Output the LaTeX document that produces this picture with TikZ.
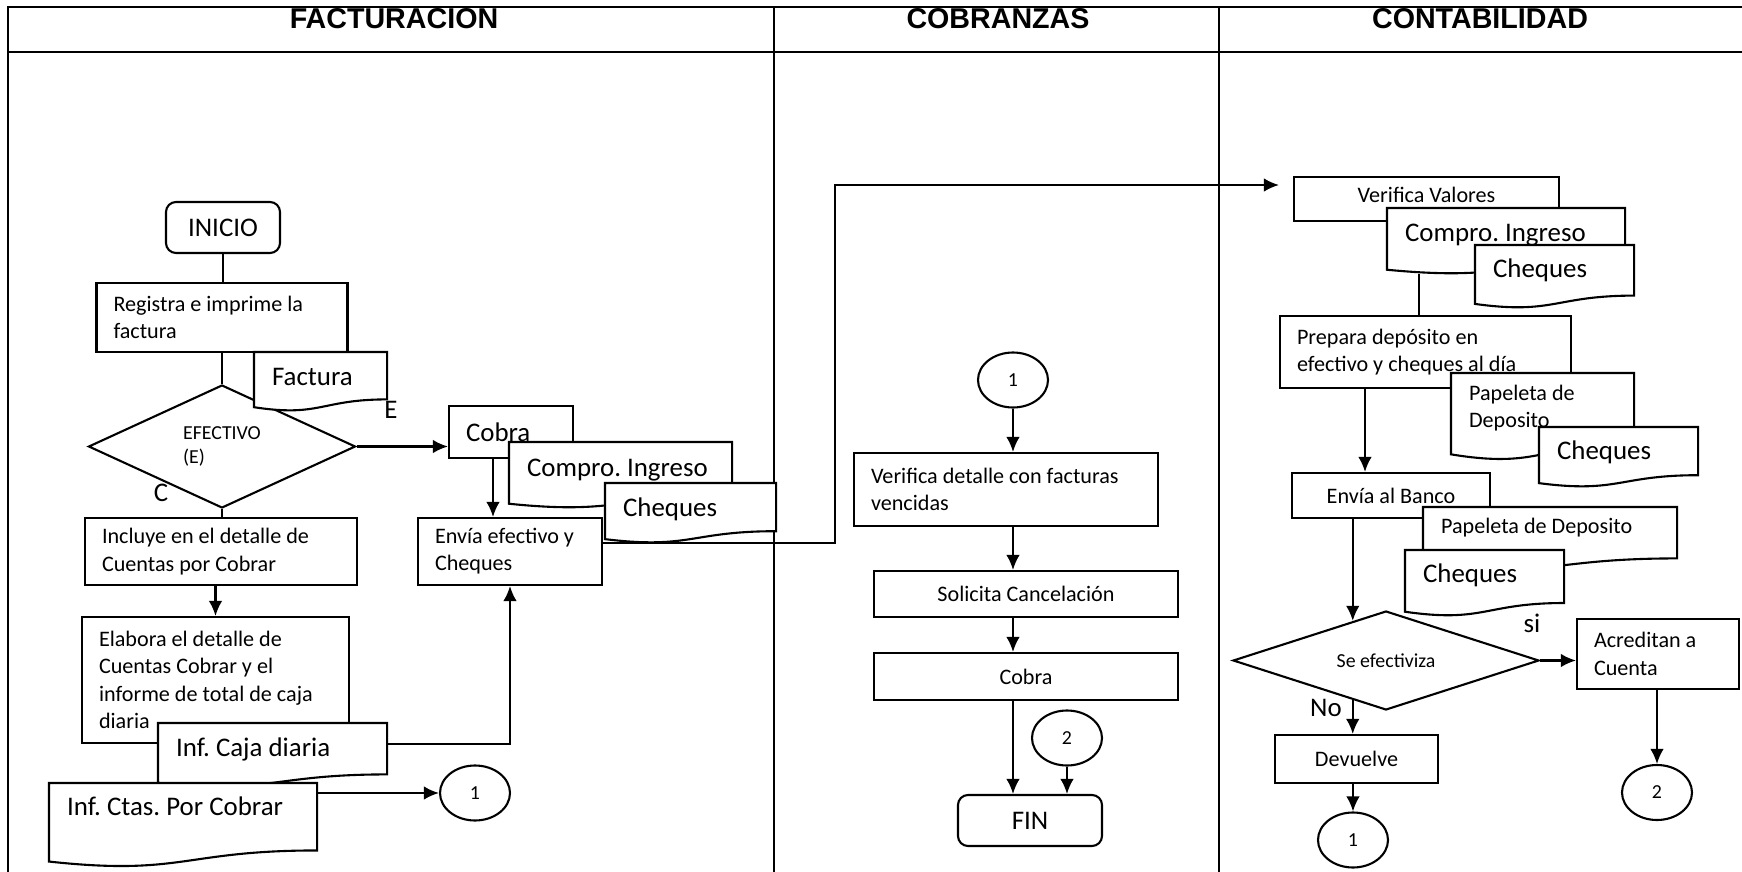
\documentclass[tikz,border=0pt]{standalone}
\usepackage{fontspec}
\setmainfont{Carlito}
\newfontfamily\headfont{Liberation Sans}
\usetikzlibrary{shapes.geometric,arrows.meta}

\newcommand\txtsmall{\fontsize{12.6}{15.5}\selectfont\frenchspacing}
\newcommand\txtbig{\fontsize{15.3}{18}\selectfont\frenchspacing}
\newcommand\txttiny{\fontsize{11.3}{13.5}\selectfont\frenchspacing}

\newdimen\docxa \newdimen\docya
\newdimen\docxb \newdimen\docyb
\newdimen\docw  \newdimen\doch
\newdimen\docmidx \newdimen\docyr \newdimen\docyc \newdimen\docyl
\makeatletter
\pgfdeclareshape{document}{
  \inheritsavedanchors[from=rectangle]
  \inheritanchorborder[from=rectangle]
  \inheritanchor[from=rectangle]{center}
  \inheritanchor[from=rectangle]{base}
  \inheritanchor[from=rectangle]{north}
  \inheritanchor[from=rectangle]{south}
  \inheritanchor[from=rectangle]{east}
  \inheritanchor[from=rectangle]{west}
  \inheritanchor[from=rectangle]{north east}
  \inheritanchor[from=rectangle]{north west}
  \inheritanchor[from=rectangle]{south east}
  \inheritanchor[from=rectangle]{south west}
  \backgroundpath{
    \southwest \docxa=\pgf@x \docya=\pgf@y
    \northeast \docxb=\pgf@x \docyb=\pgf@y
    \docw=\docxb \advance\docw by -\docxa
    \doch=\docyb \advance\doch by -\docya
    \docmidx=\docxa \advance\docmidx by .5\docw
    \docyr=\docya \advance\docyr by .198\doch
    \docyc=\docya \advance\docyc by -.107\doch
    \docyl=\docya \advance\docyl by .066\doch
    \pgfpathmoveto{\pgfqpoint{\docxa}{\docyb}}
    \pgfpathlineto{\pgfqpoint{\docxb}{\docyb}}
    \pgfpathlineto{\pgfqpoint{\docxb}{\docyr}}
    \pgfpathcurveto{\pgfqpoint{\docmidx}{\docyr}}{\pgfqpoint{\docmidx}{\docyc}}{\pgfqpoint{\docxa}{\docyl}}
    \pgfpathclose
  }
}
\makeatother

\tikzset{
  every node/.style={execute at begin node={\spaceskip=0pt\xspaceskip=0pt\relax}},
  lane/.style={font=\headfont\bfseries\fontsize{16.3}{19}\selectfont, inner sep=0pt},
  proc/.style={draw, fill=white, inner xsep=3.4mm, inner ysep=0pt, align=flush left, font=\txtsmall},
  mid/.style={align=flush center},
  term/.style={draw, fill=white, rounded corners=2mm, inner sep=0pt, font=\txtbig},
  doc/.style={shape=document, draw, fill=white, anchor=north west, inner xsep=3.4mm, inner ysep=0pt, align=flush left, font=\txtbig},
  decision/.style={diamond, draw, fill=white, inner sep=0pt, align=flush left, font=\txttiny},
  conn/.style={ellipse, draw, fill=white, inner sep=0pt, minimum width=14mm, minimum height=11mm, font=\txttiny},
  tag/.style={inner sep=0pt, font=\txtbig}
}

\begin{document}
\begin{tikzpicture}[x=1mm,y=-1mm,line width=0.42mm,>={Latex[length=3mm,width=2.7mm]}]
      \useasboundingbox (0,0) rectangle (348.4,174.4);
      \draw (1.6,174.4) |- (348.4,1.4);
      \draw (1.6,10.4) -- (348.4,10.4);
      \draw (154.8,1.4) -- (154.8,174.4);
      \draw (243.8,1.4) -- (243.8,174.4);
      \node[lane] (fact) at (78.8,3.7) {FACTURACION};
      \node[lane] (cobr) at (199.6,3.7) {COBRANZAS};
      \node[lane] (cont) at (296,3.7) {CONTABILIDAD};

      \node[term, minimum width=22.8mm, minimum height=10.2mm] (inicio) at (44.6,45.5) {INICIO};
      \node[proc, text width=43.4mm, minimum height=13.8mm] (registra) at (44.4,63.5) {Registra e imprime la\\factura};
      \node[decision, minimum width=53.4mm, minimum height=24.6mm, aspect=2.2] (efectivo) at (44.4,89.3) {EFECTIVO\\(E)};
      \node[doc, text width=19.4mm, text height=6.4mm, text depth=5mm] (factura) at (50.8,70.4) {Factura};
      \node[tag] (e) at (78.2,82) {E};
      \node[tag] (c) at (32.2,98.6) {C};
      \node[proc, text width=47.6mm, minimum height=13.4mm] (incluye) at (44.2,110.3) {Incluye en el detalle de\\Cuentas por Cobrar};
      \node[proc, text width=46.6mm, minimum height=25.2mm] (elabora) at (43.1,136) {Elabora el detalle de\\Cuentas Cobrar y el\\informe de total de caja\\diaria};
      \node[doc, text width=38.6mm, text height=6.5mm, text depth=5.9mm] (caja) at (31.6,144.6) {Inf. Caja diaria};
      \node[doc, text width=46.4mm, text height=6.2mm, text depth=10.2mm] (ctas) at (9.8,156.6) {Inf. Ctas. Por Cobrar};
      \node[conn] (uno) at (95,158.6) {1};
      \node[proc, font=\txtbig, text width=18mm, minimum height=10.4mm] (cobra) at (102.2,86.4) {Cobra};
      \node[doc, text width=37.4mm, text height=6.7mm, text depth=6.1mm] (ingreso) at (101.8,88.4) {Compro. Ingreso};
      \node[doc, text width=27mm, text height=6.5mm, text depth=5.1mm] (cheques) at (121,96.6) {Cheques};
      \node[proc, text width=30mm, minimum height=13.4mm] (envia) at (102,110.3) {Envía efectivo y\\Cheques};

      \node[conn] (uno2) at (202.6,76) {1};
      \node[proc, text width=54mm, minimum height=14.6mm] (detalle) at (201.2,97.9) {Verifica detalle con facturas\\vencidas};
      \node[proc, mid, text width=54mm, minimum height=9.2mm] (solicita) at (205.2,118.8) {Solicita Cancelación};
      \node[proc, mid, text width=54mm, minimum height=9.4mm] (cobra2) at (205.2,135.3) {Cobra};
      \node[conn] (dos) at (213.4,147.6) {2};
      \node[term, minimum width=28.8mm, minimum height=10.2mm] (fin) at (206,164.1) {FIN};

      \node[proc, mid, text width=46.2mm, minimum height=8.8mm, text depth=1.5mm] (valores) at (285.3,39.8) {Verifica Valores};
      \node[doc, text width=40.4mm, text height=6.5mm, text depth=6.3mm] (ingreso2) at (277.4,41.6) {Compro. Ingreso};
      \node[doc, text width=24.6mm, text height=6.2mm, text depth=6mm] (cheques2) at (295,49) {Cheques};
      \node[proc, text width=51.4mm, minimum height=14.4mm] (prepara) at (285.1,70.4) {Prepara depósito en\\efectivo y cheques al día};
      \node[doc, font=\txtsmall, text width=29.4mm, text height=5.2mm, text depth=11.8mm] (papeleta) at (290.2,74.6) {Papeleta de\\Deposito};
      \node[doc, text width=24.6mm, text height=6.3mm, text depth=5.3mm] (cheques3) at (307.8,85.4) {Cheques};
      \node[proc, mid, text width=32.8mm, minimum height=9mm] (banco) at (278.2,99.1) {Envía al Banco};
      \node[doc, font=\txtsmall, text width=43.6mm, text height=5mm, text depth=7.4mm] (papeleta2) at (284.6,101.4) {Papeleta de Deposito};
      \node[doc, text width=24.6mm, text height=6.3mm, text depth=6.5mm] (cheques4) at (281,110) {Cheques};
      \node[decision, minimum width=61.2mm, minimum height=19.8mm, aspect=3.1] (efectiviza) at (277.2,132.1) {Se efectiviza};
      \node[tag] (si) at (306.4,124.6) {si};
      \node[proc, text width=25.6mm, minimum height=14mm] (acredita) at (331.6,130.8) {Acreditan a\\Cuenta};
      \node[tag] (no) at (265.2,141.6) {No};
      \node[proc, mid, text width=25.8mm, minimum height=9.6mm] (devuelve) at (271.3,151.8) {Devuelve};
      \node[conn] (uno3) at (270.6,168) {1};
      \node[conn] (dos2) at (331.4,158.5) {2};

      \begin{scope}[-]
        \draw (inicio.south) to (inicio.south |- registra.north);
        \draw (registra.south) to (registra.south |- efectivo.north);
        \draw (efectivo.south) to (efectivo.south |- incluye.north);
        \draw ([xshift=6.4mm]ingreso2.south west) to ([xshift=6.4mm]ingreso2.south west |- prepara.north);
      \end{scope}
      \begin{scope}[->]
        \draw (efectivo.east) to (efectivo.east -| cobra.west);
        \draw ([xshift=-3.6mm]cobra.south) to ([xshift=-3.6mm]cobra.south |- envia.north);
        \draw (elabora.north |- incluye.south) to (elabora.north);
        \draw (caja.east |- elabora.south) -| (envia.south);
        \draw (ctas.east |- uno) to (uno);
        \draw[shorten >=2.8mm] ([yshift=1.7mm]envia.east) -- ++(46.4,0) |- ([yshift=2.8mm]valores.west);
        \draw (uno2) to (uno2 |- detalle.north);
        \draw (uno2 |- detalle.south) to (uno2 |- solicita.north);
        \draw (uno2 |- solicita.south) to (uno2 |- cobra2.north);
        \draw (uno2 |- cobra2.south) to (uno2 |- fin.north);
        \draw (dos) to (dos |- fin.north);
        \draw ([xshift=-12.1mm]prepara.south) to ([xshift=-12.1mm]prepara.south |- banco.north);
        \draw (efectiviza.130 |- banco.south) to (efectiviza.130);
        \draw (efectiviza.east) to (efectiviza.east -| acredita.west);
        \draw (efectiviza.230) to (efectiviza.230 |- devuelve.north);
        \draw (uno3 |- devuelve.south) to (uno3);
        \draw (dos2 |- acredita.south) to (dos2);
      \end{scope}
    \end{tikzpicture}
\end{document}
